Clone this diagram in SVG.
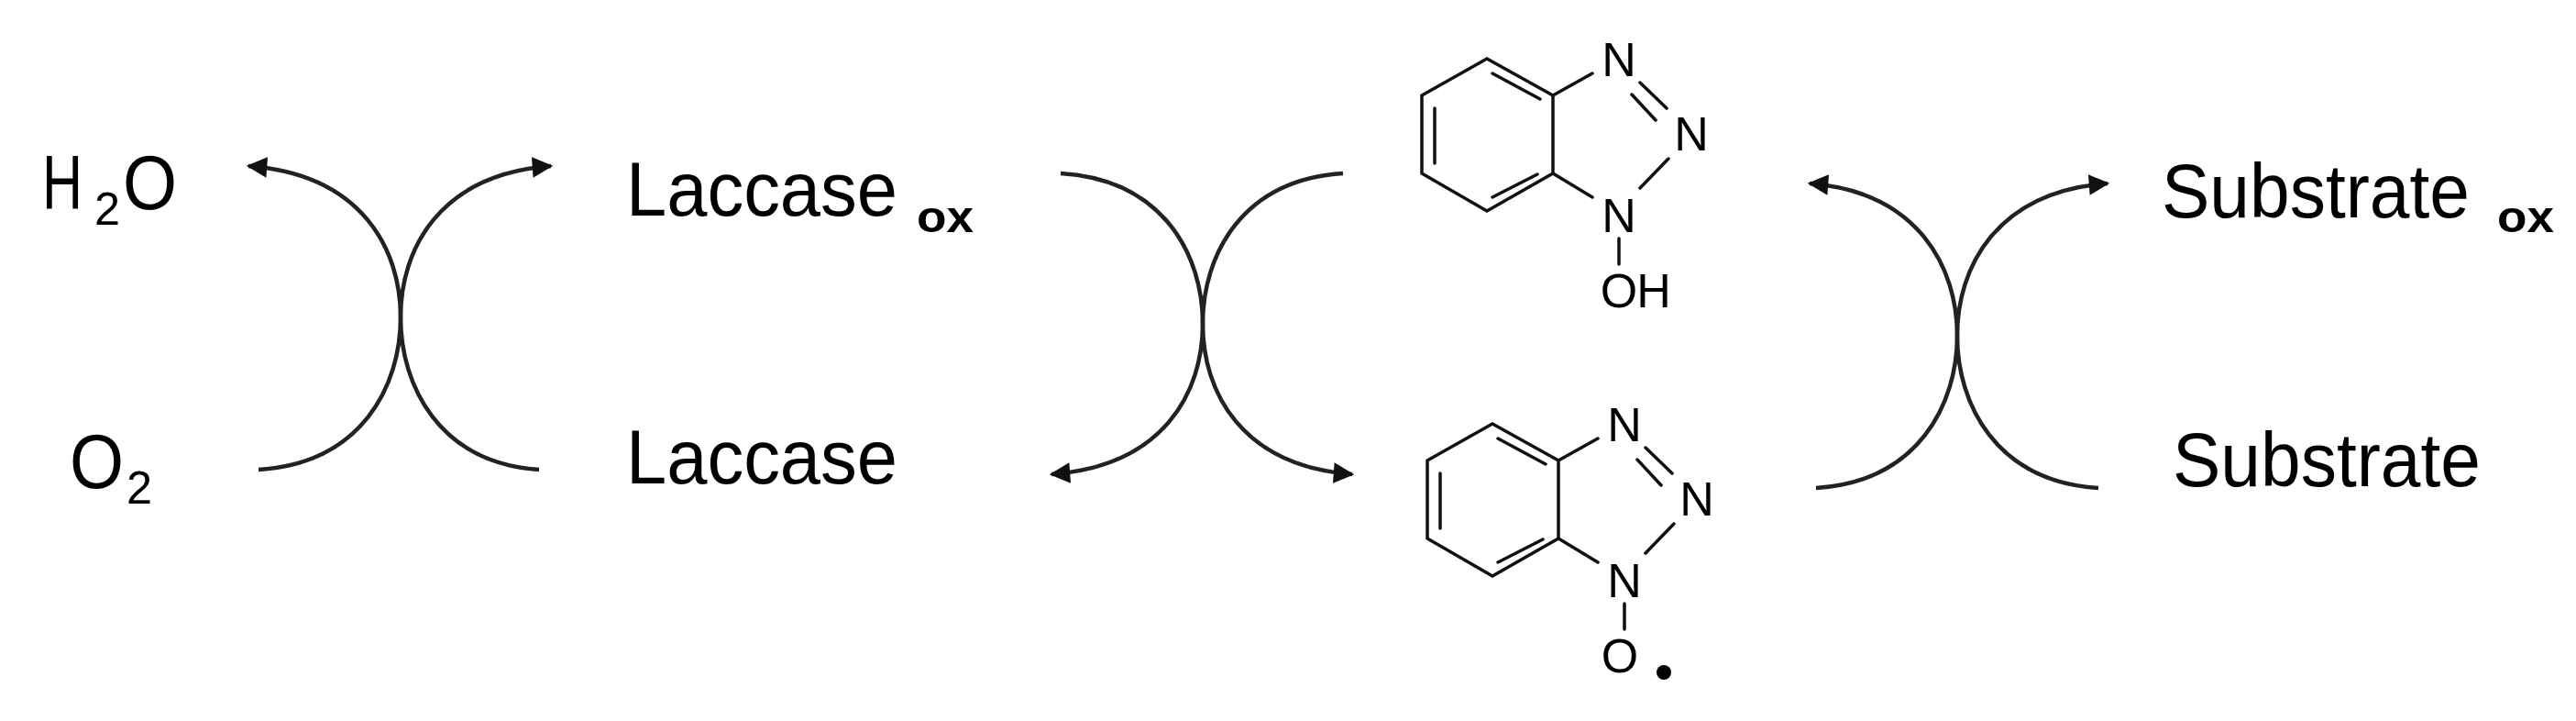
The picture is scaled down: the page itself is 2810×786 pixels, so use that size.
<svg xmlns="http://www.w3.org/2000/svg" width="2810" height="786" viewBox="0 0 2810 786">
<style>
.t{font-family:"Liberation Sans",Arial,sans-serif;fill:#000}
.lbl{font-size:84px}
.sub{font-size:50px}
.ox{font-size:48px;font-weight:bold}
.at{font-size:52px;text-anchor:middle}
.c{fill:none;stroke:#222;stroke-width:4.5}
.b{fill:none;stroke:#111;stroke-width:3.5;stroke-linecap:round}
</style>
<defs>
<marker id="ah" viewBox="0 0 10 10" refX="9" refY="5" markerWidth="7" markerHeight="5" markerUnits="strokeWidth" orient="auto">
<path d="M0,0 L10,5 L0,10 z" fill="#111"/>
</marker>
</defs>
<rect width="2810" height="786" fill="#fff"/>
<g id="connectors">
<path class="c" d="M282,512 C395,505 437,420 437,346 C437,272 395,190 271,181" marker-end="url(#ah)"/>
<path class="c" d="M588,512 C479,505 437,420 437,346 C437,272 479,190 601,181" marker-end="url(#ah)"/>
<path class="c" d="M1157,189 C1270,196 1312,279 1312,353 C1312,427 1270,508 1147,517" marker-end="url(#ah)"/>
<path class="c" d="M1465,189 C1354,196 1312,279 1312,353 C1312,427 1354,508 1475,517" marker-end="url(#ah)"/>
<path class="c" d="M1981,532 C2093,525 2135,440 2135,366 C2135,292 2093,209 1974,200" marker-end="url(#ah)"/>
<path class="c" d="M2289,532 C2177,525 2135,440 2135,366 C2135,292 2177,209 2299,200" marker-end="url(#ah)"/>
</g>
<g id="h2o">
<text class="t lbl" x="46" y="228" textLength="44" lengthAdjust="spacingAndGlyphs">H</text>
<text class="t sub" x="103" y="245" textLength="28" lengthAdjust="spacingAndGlyphs">2</text>
<text class="t lbl" x="134" y="228" textLength="59" lengthAdjust="spacingAndGlyphs">O</text>
</g>
<g id="o2">
<text class="t lbl" x="76" y="532" textLength="59" lengthAdjust="spacingAndGlyphs">O</text>
<text class="t sub" x="138" y="549" textLength="28" lengthAdjust="spacingAndGlyphs">2</text>
</g>
<g id="laccase-ox">
<text class="t lbl" x="683" y="235" textLength="296" lengthAdjust="spacingAndGlyphs">Laccase</text>
<text class="t ox" x="1000" y="253" textLength="62" lengthAdjust="spacingAndGlyphs">ox</text>
</g>
<g id="laccase"><text class="t lbl" x="683" y="527" textLength="296" lengthAdjust="spacingAndGlyphs">Laccase</text></g>
<g id="substrate-ox">
<text class="t lbl" x="2358" y="237" textLength="336" lengthAdjust="spacingAndGlyphs">Substrate</text>
<text class="t ox" x="2724" y="253" textLength="62" lengthAdjust="spacingAndGlyphs">ox</text>
</g>
<g id="substrate"><text class="t lbl" x="2370" y="530" textLength="336" lengthAdjust="spacingAndGlyphs">Substrate</text></g>
<defs>
<g id="bt">
<path class="b" d="M1622,64 L1551,104 L1551,189 L1622,230 L1694,189 L1694,104 Z"/>
<path class="b" d="M1628,80 L1680,108 M1565,118 L1565,178 M1628,215 L1677,190"/>
<path class="b" d="M1694,104 L1737,80 M1789,90 L1818,118 M1780,103 L1806,131 M1820,173 L1789,205 M1737,215 L1694,189 M1766,260 L1766,288"/>
<text class="t at" x="1766" y="83">N</text>
<text class="t at" x="1845" y="164">N</text>
<text class="t at" x="1766" y="253">N</text>
</g>
</defs>
<g id="hobt">
<use href="#bt"/>
<text class="t at" x="1766" y="335">O</text>
<text class="t at" x="1804" y="335">H</text>
</g>
<g id="hobt-radical" transform="translate(6,398)">
<use href="#bt"/>
<text class="t at" x="1761" y="335">O</text>
<circle cx="1809" cy="335" r="8" fill="#000"/>
</g>
</svg>
